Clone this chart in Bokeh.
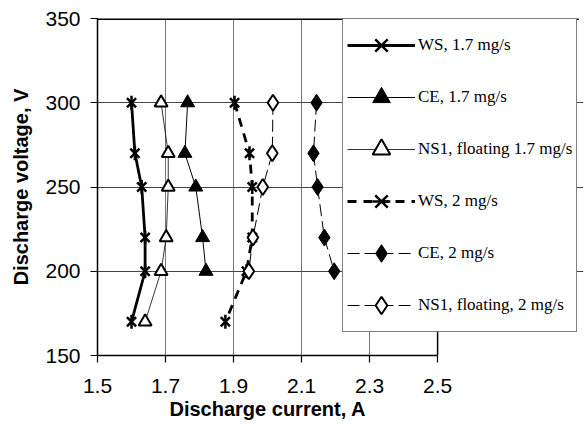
from bokeh.plotting import figure
from bokeh.models import Legend, LegendItem, FixedTicker, Range1d, Title
from bokeh.embed import file_html
from bokeh.resources import INLINE
import math

voltage = [300, 270, 250, 220, 200, 170]
voltage5 = [300, 270, 250, 220, 200]

ws_17 = [1.60, 1.61, 1.63, 1.64, 1.64, 1.60]
ce_17 = [1.765, 1.757, 1.789, 1.809, 1.819]
ns1_17 = [1.687, 1.708, 1.708, 1.702, 1.687, 1.640]
ws_2 = [1.903, 1.947, 1.955, 1.955, 1.938, 1.876]
ce_2 = [2.144, 2.135, 2.147, 2.167, 2.196]
ns1_2 = [2.016, 2.014, 1.986, 1.957, 1.945]

x_ticks = [1.5, 1.7, 1.9, 2.1, 2.3, 2.5]
y_ticks = [150, 200, 250, 300, 350]

X_MIN, X_MAX = 1.5, 2.5
Y_MIN, Y_MAX = 150, 350
X_VIEW_MAX = 2.929  # room on the right for the legend box, which overhangs the axes

p = figure(width=584, height=426, output_backend="svg", toolbar_location=None,
           x_range=Range1d(X_MIN, X_VIEW_MAX), y_range=Range1d(Y_MIN, Y_MAX),
           min_border_left=97, min_border_right=1, min_border_top=18, min_border_bottom=71)

p.outline_line_color = None
p.background_fill_color = "white"

for ax in (p.xaxis[0], p.yaxis[0]):
    ax.axis_line_color = "black"
    ax.axis_line_width = 1.5
    ax.major_tick_line_color = "black"
    ax.major_tick_line_width = 1.2
    ax.major_tick_in = 0
    ax.minor_tick_line_color = None
    ax.major_label_text_font = "Liberation Sans"
    ax.major_label_text_font_size = "21px"
    ax.major_label_text_color = "black"
    ax.axis_label_text_font = "Liberation Sans"
    ax.axis_label_text_font_size = "20px"
    ax.axis_label_text_font_style = "bold"
    ax.axis_label_text_color = "black"

p.xaxis.ticker = FixedTicker(ticks=x_ticks)
p.yaxis.ticker = FixedTicker(ticks=y_ticks)
p.xaxis.bounds = (X_MIN, X_MAX)
p.xaxis.major_tick_out = 7
p.yaxis.major_tick_out = 7
p.yaxis.axis_label = "Discharge voltage, V"
p.xaxis.major_label_standoff = 16
p.yaxis.major_label_standoff = 10
p.yaxis.axis_label_standoff = 10

# x-axis title, centred under the 1.5-2.5 span rather than under the wider frame
xtitle = Title(text="Discharge current, A", align="left", offset=72, standoff=0,
               text_font="Liberation Sans", text_font_size="20px",
               text_font_style="bold", text_color="black")
p.add_layout(xtitle, "below")

p.xgrid.ticker = FixedTicker(ticks=[1.7, 1.9, 2.1, 2.3])
p.ygrid.ticker = FixedTicker(ticks=[200, 250, 300])
p.xgrid.grid_line_color = "#777777"
p.ygrid.grid_line_color = "#444444"
p.xgrid.grid_line_width = 1
p.ygrid.grid_line_width = 1
p.ygrid.bounds = (X_MIN, X_MAX)

# plot box: top edge (running under the legend's top) and right edge at 2.5
p.segment(x0=[X_MIN], y0=[Y_MAX], x1=[2.915], y1=[Y_MAX], line_color="black", line_width=3)
p.segment(x0=[X_MAX], y0=[Y_MIN], x1=[X_MAX], y1=[Y_MAX], line_color="black", line_width=1.5)

items = []

# WS 1.7 mg/s
l1 = p.line(ws_17, voltage, line_color="black", line_width=2.8)
m1a = p.scatter(ws_17, voltage, marker="x", size=13, line_color="black", line_width=2.5)
m1b = p.scatter(ws_17, voltage, marker="dash", size=14, angle=math.pi / 2, line_color="black", line_width=2.5)
items.append(LegendItem(label="WS, 1.7 mg/s", renderers=[l1, m1a, m1b]))

# CE 1.7
l2 = p.line(ce_17, voltage5, line_color="black", line_width=1)
m2 = p.scatter(ce_17, voltage5, marker="triangle", size=14, fill_color="black", line_color="black")
items.append(LegendItem(label="CE, 1.7 mg/s", renderers=[l2, m2]))

# NS1 1.7
l3 = p.line(ns1_17, voltage, line_color="black", line_width=0.8)
m3 = p.scatter(ns1_17, voltage, marker="triangle", size=13, fill_color="white", line_color="black", line_width=2)
items.append(LegendItem(label="NS1, floating 1.7 mg/s", renderers=[l3, m3]))

# WS 2
l4 = p.line(ws_2, voltage, line_color="black", line_width=2.8, line_dash="9 7")
m4a = p.scatter(ws_2, voltage, marker="x", size=13, line_color="black", line_width=2.5)
m4b = p.scatter(ws_2, voltage, marker="dash", size=14, angle=math.pi / 2, line_color="black", line_width=2.5)
items.append(LegendItem(label="WS, 2 mg/s", renderers=[l4, m4a, m4b]))

# CE 2
l5 = p.line(ce_2, voltage5, line_color="black", line_width=1, line_dash="12 5")
m5 = p.scatter(ce_2, voltage5, marker="diamond", size=17, fill_color="black", line_color="black")
items.append(LegendItem(label="CE, 2 mg/s", renderers=[l5, m5]))

# NS1 2
l6 = p.line(ns1_2, voltage5, line_color="black", line_width=1, line_dash="12 5")
m6 = p.scatter(ns1_2, voltage5, marker="diamond", size=16, fill_color="white", line_color="black", line_width=2)
items.append(LegendItem(label="NS1, floating, 2 mg/s", renderers=[l6, m6]))

legend = Legend(items=items, location=(245, 23),
                glyph_width=68, glyph_height=44, label_height=44, spacing=8,
                padding=4, margin=0, label_standoff=3,
                label_text_font="Liberation Serif", label_text_font_size="17px",
                label_text_color="black",
                border_line_color="black", border_line_width=1.2,
                background_fill_color="white", background_fill_alpha=1.0)
p.add_layout(legend, "center")

open("out.html", "w").write(file_html(p, INLINE))
